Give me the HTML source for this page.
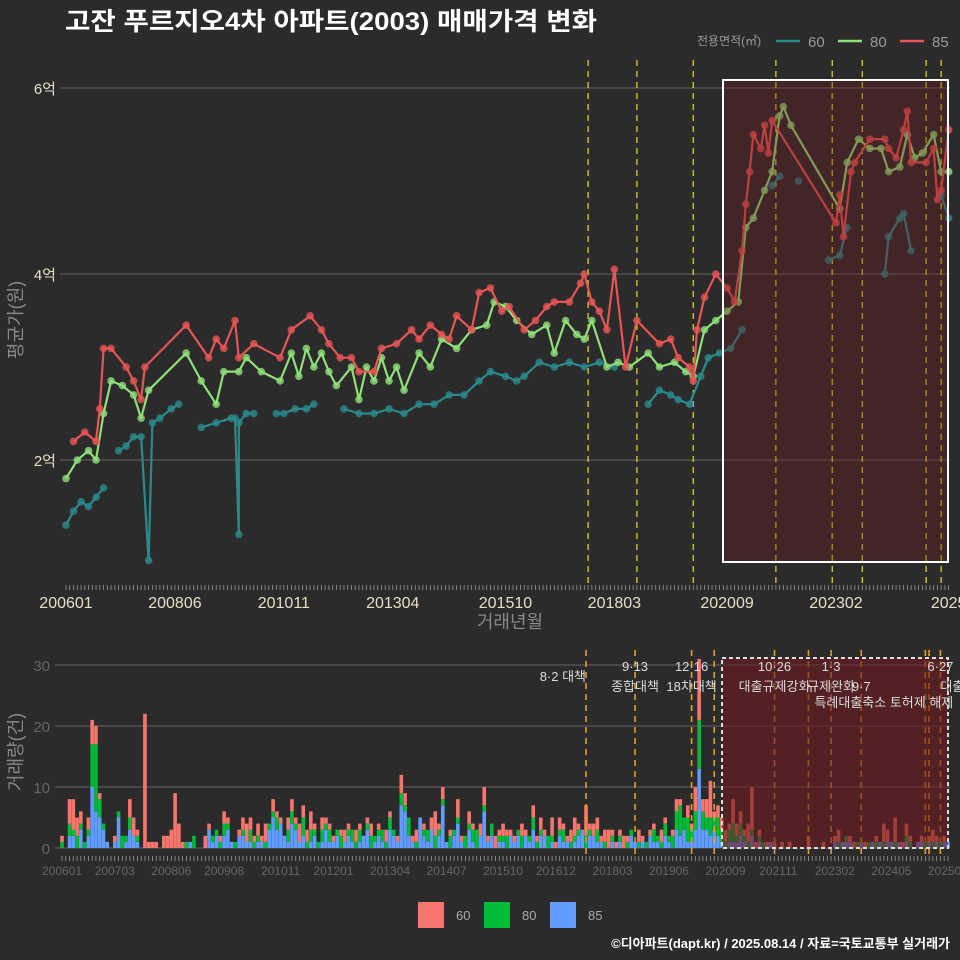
<!DOCTYPE html>
<html><head><meta charset="utf-8">
<style>
html,body{margin:0;padding:0;background:#2b2b2b;}
svg{display:block;font-family:"Liberation Sans","Noto Sans CJK KR",sans-serif;}
</style></head>
<body>
<svg id="c" width="960" height="960" viewBox="0 0 960 960" xmlns="http://www.w3.org/2000/svg">
<rect x="0" y="0" width="960" height="960" fill="#2b2b2b"/>
<text x="65" y="30" fill="#ffffff" font-size="25" font-weight="bold" textLength="532" lengthAdjust="spacingAndGlyphs">고잔 푸르지오4차 아파트(2003) 매매가격 변화</text>
<g>
<text x="697" y="45" fill="#999" font-size="12">전용면적(㎡)</text>
<line x1="776" y1="41" x2="800" y2="41" stroke="#2a8a8c" stroke-width="2.5"/>
<text x="808" y="47" fill="#999" font-size="15">60</text>
<line x1="838" y1="41" x2="862" y2="41" stroke="#90e07a" stroke-width="2.5"/>
<text x="870" y="47" fill="#999" font-size="15">80</text>
<line x1="900" y1="41" x2="924" y2="41" stroke="#e85555" stroke-width="2.5"/>
<text x="932" y="47" fill="#999" font-size="15">85</text>
</g>
<text transform="translate(22,320) rotate(-90)" text-anchor="middle" fill="#888" font-size="18">평균가(원)</text>
<text x="510" y="628" text-anchor="middle" fill="#888" font-size="18">거래년월</text>
<text transform="translate(22,752) rotate(-90)" text-anchor="middle" fill="#888" font-size="18">거래량(건)</text>
<g>
<rect x="418" y="902" width="26" height="26" fill="#f8766d"/>
<text x="456" y="920" fill="#aaa" font-size="13">60</text>
<rect x="484" y="902" width="26" height="26" fill="#00ba38"/>
<text x="522" y="920" fill="#aaa" font-size="13">80</text>
<rect x="550" y="902" width="26" height="26" fill="#619cff"/>
<text x="588" y="920" fill="#aaa" font-size="13">85</text>
</g>
<text x="950" y="948" text-anchor="end" fill="#fff" font-size="13" font-weight="bold">©디아파트(dapt.kr) / 2025.08.14 / 자료=국토교통부 실거래가</text>
</svg>
<script>
// ---- price data (month index from 2006-01, value in 억) ----
const m60 = [0,2,4,6,8,10,null,14,16,18,20,22,23,25,28,30,null,36,40,44,45,46,46,48,50,null,56,58,61,64,66,null,74,78,82,86,90,94,98,102,106,110,113,117,120,122,126,130,134,138,142,146,null,155,158,161,163,166,169,171,174,177,180,null,188,190,null,195,null,203,206,208,null,218,219,222,223,225,null,233,235];
const v60 = [1.3,1.45,1.55,1.5,1.6,1.7,null,2.1,2.15,2.25,2.25,0.92,2.4,2.45,2.55,2.6,null,2.35,2.4,2.45,2.45,1.2,2.4,2.5,2.5,null,2.5,2.5,2.55,2.55,2.6,null,2.55,2.5,2.5,2.55,2.5,2.6,2.6,2.7,2.7,2.85,2.95,2.9,2.85,2.9,3.05,3.0,3.05,3.0,3.05,3.0,null,2.6,2.75,2.7,2.65,2.6,2.9,3.1,3.15,3.2,3.4,null,4.95,5.05,null,5.0,null,4.15,4.2,4.5,null,4.0,4.4,4.6,4.65,4.25,null,4.85,4.6];
const m80 = [0,3,6,8,10,12,15,18,20,22,32,36,40,42,46,48,52,57,60,62,64,66,68,70,72,76,78,80,82,84,86,88,90,94,97,100,104,108,112,114,117,120,124,128,130,133,136,138,140,144,147,150,155,158,162,165,167,170,173,176,179,181,183,186,188,190,191,193,206,208,211,214,217,219,222,224,226,228,231,233,235];
const v80 = [1.8,2.0,2.1,2.0,2.5,2.85,2.8,2.7,2.45,2.75,3.15,2.85,2.6,2.95,2.95,3.1,2.95,2.85,3.15,2.9,3.2,3.0,3.15,2.95,2.8,3.0,2.65,3.0,2.85,3.1,2.85,3.0,2.75,3.15,3.0,3.3,3.2,3.4,3.45,3.7,3.65,3.5,3.35,3.45,3.15,3.5,3.35,3.3,3.5,3.0,3.05,3.0,3.15,3.0,3.05,2.95,2.9,3.4,3.5,3.6,3.7,4.5,4.6,4.9,5.1,5.7,5.8,5.6,4.7,5.2,5.45,5.35,5.35,5.1,5.15,5.5,5.25,5.3,5.5,5.1,5.1];
const m85 = [2,5,8,9,10,12,16,18,20,21,32,38,40,42,45,46,50,57,60,65,68,70,73,76,78,82,84,88,92,94,97,100,102,104,108,110,113,116,118,122,125,128,130,134,137,138,140,142,144,146,149,152,158,161,163,166,167,168,170,173,176,178,180,181,182,183,185,186,187,188,205,206,207,209,210,214,218,219,221,223,224,225,229,231,232,233,235];
const v85 = [2.2,2.3,2.2,2.55,3.2,3.2,3.0,2.85,2.65,3.0,3.45,3.1,3.3,3.2,3.5,3.1,3.25,3.1,3.4,3.55,3.4,3.25,3.1,3.1,2.95,2.95,3.2,3.25,3.4,3.3,3.45,3.35,3.3,3.55,3.4,3.8,3.85,3.6,3.65,3.4,3.5,3.65,3.7,3.7,3.9,4.0,3.7,3.6,3.4,4.05,3.0,3.5,3.25,3.3,3.1,3.0,2.85,3.4,3.75,4.0,3.85,3.7,4.25,4.75,5.1,5.5,5.35,5.6,5.3,5.65,4.55,4.85,4.4,5.1,5.2,5.45,5.45,5.35,5.25,5.55,5.75,5.2,5.2,5.35,4.8,4.9,5.55];
const priceTicks = [2,4,6];
const priceTickLabels = ["2억","4억","6억"];
const xTickMonths = [0,29,58,87,117,146,176,205,235];
const xTickLabels = ["200601","200806","201011","201304","201510","201803","202009","202302","2025"];
const policyTop = [139,152,167,189,204,212,229,233];
// ---- volume data (monthly counts) ----
const cnt85 = [0,0,2,2,0,3,0,2,10,6,5,3, 1,0,1,5,0,1,3,2,1,0,0,0, 0,0,0,0,0,0,0,0,0,0,1,0, 0,0,0,3,1,2,0,2,3,1,0,2, 2,1,1,0,1,1,0,3,5,3,4,2, 1,4,3,1,2,0,1,2,0,1,3,1, 1,2,0,1,2,1,0,1,2,3,0,1, 2,1,0,3,2,1,7,6,2,1,0,5, 2,1,3,0,2,7,1,0,2,4,1,0, 3,1,0,2,6,1,2,0,1,1,0,2, 1,2,0,2,1,3,0,2,2,0,1,0, 2,1,1,0,1,2,3,0,2,2,1,1, 0,0,1,0,1,0,0,2,1,0,1,0, 2,1,1,0,2,1,0,3,2,3,1,1, 3,13,3,3,2,3,2,1,0,1,1,1, 2,1,0,2,0,1,0,0,1,0,0,0, 0,0,0,0,0,0,0,0,0,0,0,0, 0,1,0,1,1,1,0,0,1,0,0,1, 0,1,0,1,1,0,1,0,1,0,0,1, 1,0,1,0,1,0,1,1];
const cnt80 = [1,0,2,1,2,1,1,1,7,11,3,1, 0,0,0,1,2,1,2,0,1,0,0,0, 0,0,0,0,0,0,0,0,0,1,0,2, 0,0,0,0,1,1,1,2,1,0,1,0, 1,0,2,1,1,0,1,1,1,2,0,0, 2,2,1,0,3,1,2,1,1,2,1,2, 0,1,2,0,1,2,1,2,0,1,2,1, 1,2,1,2,1,0,2,1,3,0,1,0, 1,2,0,2,1,1,0,2,1,1,0,2, 1,2,3,0,1,0,2,0,1,1,2,0, 0,1,2,0,1,2,1,1,0,2,1,0, 1,2,0,1,1,1,0,2,1,0,2,0, 1,0,1,0,1,0,1,1,0,1,0,1, 0,2,1,1,2,1,2,3,5,2,4,2, 3,8,3,2,3,2,3,2,1,2,3,1, 2,1,1,1,0,1,1,0,0,0,0,0, 0,0,0,0,0,0,0,0,0,0,0,0, 0,0,1,0,1,0,0,1,0,0,1,0, 1,0,1,0,0,1,0,0,1,1,0,0, 0,1,0,1,0,1,0,0];
const cnt60 = [1,0,4,5,3,2,0,2,4,3,1,0, 0,0,1,0,0,0,3,3,1,0,22,1, 1,1,0,2,2,3,9,4,1,0,0,0, 0,0,2,1,0,0,1,2,1,0,0,1, 2,3,2,1,2,1,3,0,2,1,1,0, 2,2,1,3,2,2,3,1,0,2,1,1, 1,0,1,2,1,0,2,1,0,1,2,0, 1,0,2,1,0,1,3,2,0,1,2,0, 1,0,2,4,1,2,0,1,0,3,1,0, 2,1,0,2,3,1,0,2,1,2,1,1, 1,0,2,1,0,2,1,2,1,0,3,1, 2,1,1,2,3,1,0,5,1,2,2,1, 2,3,1,1,1,2,1,0,0,2,1,0, 1,1,0,2,1,0,1,2,1,0,2,1, 4,10,2,3,6,1,2,2,2,1,4,2, 2,1,3,7,1,1,0,1,0,1,0,1, 0,1,0,0,0,0,2,0,0,0,1,0, 0,1,2,0,0,1,1,0,0,1,0,0, 1,0,3,2,0,4,0,1,2,1,0,0, 1,0,1,2,1,0,1,0];
const volTicks = [0,10,20,30];
const bxTickMonths = [0,14,29,43,58,72,87,102,117,131,146,161,176,190,205,220,235];
const bxTickLabels = ["200601","200703","200806","200908","201011","201201","201304","201407","201510","201612","201803","201906","202009","202111","202302","202405","202508"];
const policyBottom = [139,152,167,173,189,198,204,212,229,230,233];
const notes = [
 {m:139,dy:681,t:"8·2 대책",a:"end"},
 {m:152,dy:671,t:"9·13",a:"middle"},{m:152,dy:691,t:"종합대책",a:"middle"},
 {m:167,dy:671,t:"12·16",a:"middle"},{m:167,dy:691,t:"18차대책",a:"middle"},
 {m:189,dy:671,t:"10·26",a:"middle"},{m:189,dy:691,t:"대출규제강화",a:"middle"},
 {m:204,dy:671,t:"1·3",a:"middle"},{m:204,dy:691,t:"규제완화",a:"middle"},
 {m:212,dy:691,t:"9·7",a:"middle"},{m:218,dy:707,t:"특례대출축소 토허제 해제",a:"middle"},
 {m:233,dy:671,t:"6·27",a:"middle"},{m:233,dy:691,t:"대출규",a:"start"}
];

const NS="http://www.w3.org/2000/svg";
const svg=document.getElementById('c');
function mk(tag,attrs,parent){const e=document.createElementNS(NS,tag);for(const k in attrs)e.setAttribute(k,attrs[k]);(parent||svg).appendChild(e);return e;}
const X=m=>66+3.756*m;
const Y=v=>460-(v-2)*93;
const BX=m=>62+3.77*m;
const BY=c=>848-c*6.1;

const gTop=mk('g',{});


priceTicks.forEach((t,i)=>{
 const l=mk('line',{x1:60,x2:950,y1:Y(t),y2:Y(t),stroke:'#666','stroke-width':1},gTop);
 
 
 const tx=mk('text',{x:56,y:Y(t)+6,'text-anchor':'end',fill:'#e6dfc8','font-size':15},gTop);
 tx.textContent=priceTickLabels[i];
 
 
});
for(let m=0;m<=235;m++){
 const l=mk('line',{x1:X(m),x2:X(m),y1:585,y2:590,stroke:'#999','stroke-width':0.8},gTop);
 
 
 const b=mk('line',{x1:BX(m),x2:BX(m),y1:856,y2:861,stroke:'#999','stroke-width':0.8},gTop);
 
 
}
xTickMonths.forEach((m,i)=>{
 const tx=mk('text',{x:X(m),y:608,'text-anchor':'middle',fill:'#e6dfc8','font-size':16},gTop);
 tx.textContent=xTickLabels[i];
 
 
});
policyTop.forEach(m=>{
 const l=mk('line',{x1:X(m),x2:X(m),y1:60,y2:585,stroke:'#e8e020','stroke-width':1.2,'stroke-dasharray':'6,5'},gTop);
 
 
});
function drawSeries(ms,vs,color,name){
 const g=mk('g',{});
 
 
 let d='',pen=false;
 for(let i=0;i<ms.length;i++){
  if(ms[i]===null||vs[i]===null){pen=false;continue;}
  d+=(pen?'L':'M')+X(ms[i]).toFixed(1)+','+Y(vs[i]).toFixed(1);pen=true;
 }
 const p=mk('path',{d:d,fill:'none',stroke:color,'stroke-width':2.2,'stroke-linejoin':'round'},g);
 
 
 for(let i=0;i<ms.length;i++){
  if(ms[i]===null||vs[i]===null)continue;
  const c=mk('circle',{cx:X(ms[i]),cy:Y(vs[i]),r:3.8,fill:color,opacity:0.8},g);
  
  
 }
}
drawSeries(m60,v60,'#2a8a8c','60');
drawSeries(m80,v80,'#90e07a','80');
drawSeries(m85,v85,'#e85555','85');
const box=mk('rect',{x:723,y:80,width:225,height:482,fill:'rgba(110,25,30,0.35)',stroke:'#fff','stroke-width':2});



const gB=mk('g',{});


volTicks.forEach(t=>{
 const l=mk('line',{x1:55,x2:950,y1:BY(t),y2:BY(t),stroke:'#666','stroke-width':1},gB);
 
 
 const tx=mk('text',{x:50,y:BY(t)+6,'text-anchor':'end',fill:'#666','font-size':15},gB);
 tx.textContent=String(t);
 
 
});
for(let m=0;m<cnt60.length;m++){
 let base=0;
 [[cnt85,'#619cff','85'],[cnt80,'#00ba38','80'],[cnt60,'#f8766d','60']].forEach(s=>{
  const c=s[0][m]||0; if(!c)return;
  const r=mk('rect',{x:BX(m)-1.8,y:BY(base+c),width:3.6,height:c*6.1,fill:s[1]},gB);
  
  
  base+=c;
 });
}
bxTickMonths.forEach((m,i)=>{
 const tx=mk('text',{x:BX(m),y:875,'text-anchor':'middle',fill:'#666','font-size':12},gB);
 tx.textContent=bxTickLabels[i];
 
 
});
policyBottom.forEach(m=>{
 const l=mk('line',{x1:BX(m),x2:BX(m),y1:650,y2:858,stroke:'#e0a020','stroke-width':1.6,'stroke-dasharray':'6,5'},gB);
 
 
});
const box2=mk('rect',{x:722,y:658,width:226,height:190,fill:'rgba(110,25,30,0.6)',stroke:'#ddd','stroke-width':2,'stroke-dasharray':'4,3'});


notes.forEach(n=>{
 const tx=mk('text',{x:BX(n.m),y:n.dy,'text-anchor':n.a,fill:'#ddd','font-size':13});
 tx.textContent=n.t;
 
 
});
</script>
</body></html>
